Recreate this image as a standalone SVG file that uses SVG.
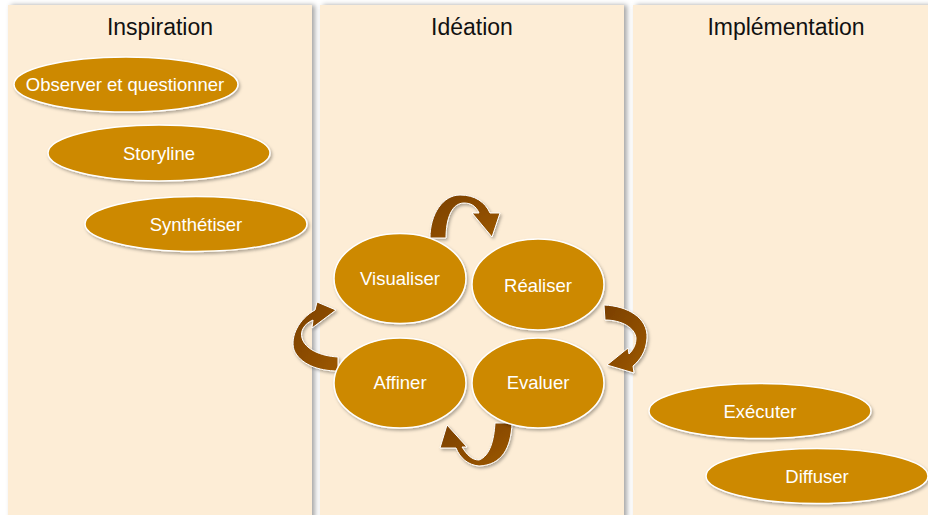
<svg xmlns="http://www.w3.org/2000/svg" width="928" height="515" viewBox="0 0 928 515">
<defs>
<filter id="psh" x="-5%" y="-5%" width="115%" height="110%">
<feDropShadow dx="3" dy="0" stdDeviation="2.5" flood-color="#000" flood-opacity="0.35"/>
</filter>
<filter id="esh" x="-10%" y="-10%" width="125%" height="130%">
<feDropShadow dx="1.5" dy="2" stdDeviation="1.5" flood-color="#000" flood-opacity="0.3"/>
</filter>
<linearGradient id="ag" x1="0" y1="0" x2="1" y2="1">
<stop offset="0" stop-color="#7a3f00"/>
<stop offset="1" stop-color="#9c5800"/>
</linearGradient>
<style>
.panel{fill:#fdedd6;filter:url(#psh)}
.title{font-family:"Liberation Sans",Arial,sans-serif;font-size:23px;fill:#111;text-anchor:middle}
.node ellipse{fill:#cd8900;stroke:#fff;stroke-width:1.5;filter:url(#esh)}
.node text{font-family:"Liberation Sans",Arial,sans-serif;font-size:18.5px;fill:#fff;text-anchor:middle}
.arr{fill:url(#ag);stroke:#fff;stroke-width:1;filter:url(#esh)}
</style>
</defs>
<rect x="0" y="0" width="928" height="515" fill="#fff"/>
<g id="panels">
<rect class="panel" x="8" y="5" width="304" height="515"/>
<rect class="panel" x="320" y="5" width="304" height="515"/>
<rect class="panel" x="633" y="5" width="300" height="515"/>
<text class="title" x="160" y="35">Inspiration</text>
<text class="title" x="472" y="35">Idéation</text>
<text class="title" x="786" y="35">Implémentation</text>
</g>
<g id="connectors">
<path class="arr" d="M430,238 C430,214 443,195 460,195 C475,195 485,202 490,213 L500,213 L492,237 L472,213 L479,213 C476,206 471,203 464,203 C452,203 446,218 446,238 Z"/>
<path class="arr" d="M604,305 C628,306 648,318 647,338 C646,352 640,360 633,366 L634,373 L607,365 L628,348 L629,354 C634,349 636,344 636,338 C635,328 622,320 605,320 Z"/>
<path class="arr" d="M495,423 L512,423 C511,448 502,465 479,466 C468,465 460,458 456,448 L440,448 L447,425 L467,447 L462,447 C467,455 472,460 479,460 C490,456 494,440 495,423 Z"/>
<path class="arr" d="M338,357 L338,371 C318,371 300,364 294,350 C290,336 299,319 315,310 L317,302 L336,310 L312,328 L313,320 C304,324 300,331 302,338 C305,349 320,356 338,357 Z"/>
</g>
<g id="n-observer" class="node"><ellipse cx="126" cy="84.5" rx="112" ry="27.5"/><text x="125" y="91">Observer et questionner</text></g>
<g id="n-storyline" class="node"><ellipse cx="159" cy="153" rx="111" ry="28"/><text x="159" y="160">Storyline</text></g>
<g id="n-synthetiser" class="node"><ellipse cx="196" cy="224" rx="111" ry="27.5"/><text x="196" y="231">Synthétiser</text></g>
<g id="n-visualiser" class="node"><ellipse cx="400" cy="278.5" rx="66" ry="45"/><text x="400" y="285">Visualiser</text></g>
<g id="n-realiser" class="node"><ellipse cx="538" cy="284.5" rx="66" ry="45.5"/><text x="538" y="292">Réaliser</text></g>
<g id="n-affiner" class="node"><ellipse cx="400" cy="383" rx="66" ry="45"/><text x="400" y="389">Affiner</text></g>
<g id="n-evaluer" class="node"><ellipse cx="538" cy="383" rx="66" ry="45"/><text x="538" y="389">Evaluer</text></g>
<g id="n-executer" class="node"><ellipse cx="760" cy="411" rx="111" ry="27.5"/><text x="760" y="418">Exécuter</text></g>
<g id="n-diffuser" class="node"><ellipse cx="817" cy="476" rx="111" ry="27.5"/><text x="817" y="483">Diffuser</text></g>
</svg>
